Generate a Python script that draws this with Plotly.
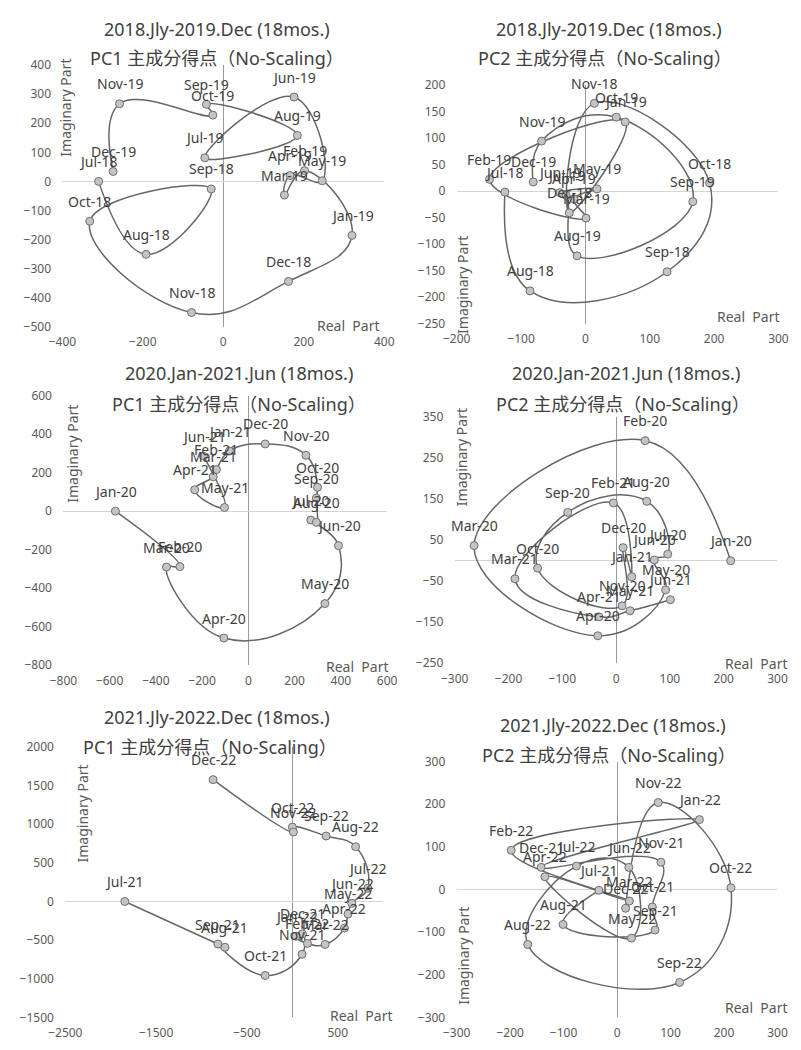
import plotly.graph_objects as go

W, H = 801, 1050
FONT = "Noto Sans, Noto Sans CJK JP, sans-serif"

# ---------------- data ----------------
p1_months = ["Jul-18","Aug-18","Sep-18","Oct-18","Nov-18","Dec-18","Jan-19","Feb-19","Mar-19",
             "Apr-19","May-19","Jun-19","Jul-19","Aug-19","Sep-19","Oct-19","Nov-19","Dec-19"]
p1_re = [-310,-192,-30,-332,-79,162,320,202,152,166,246,176,-46,184,-42,-26,-258,-274]
p1_im = [0,-251,-26,-137,-451,-344,-186,37,-47,20,2,290,81,158,265,228,267,34]

p2_months = p1_months
p2_re = [-125,-86,127,193,14,-25,62,-149,1,-18,18,-40,-30,-13,167,48,-68,-81]
p2_im = [-2,-188,-152,15,165,-41,130,22,-51,-15,4,-3,-8,-122,-20,139,94,17]

p3_months = ["Jan-20","Feb-20","Mar-20","Apr-20","May-20","Jun-20","Jul-20","Aug-20","Sep-20",
             "Oct-20","Nov-20","Dec-20","Jan-21","Feb-21","Mar-21","Apr-21","May-21","Jun-21"]
p3_re = [-575,-296,-354,-106,331,390,270,294,294,299,249,73,-82,-138,-152,-232,-103,-194]
p3_im = [0,-288,-290,-659,-480,-179,-46,-58,68,124,290,349,312,216,179,111,19,286]

p4_months = p3_months
p4_re = [213,54,-264,-34,92,71,96,57,-90,-146,11,13,29,-5,-188,-32,26,101]
p4_im = [0,293,37,-183,-71,2,16,145,118,-18,-110,32,-39,141,-44,-137,-122,-95]

p5_months = ["Jul-21","Aug-21","Sep-21","Oct-21","Nov-21","Dec-21","Jan-22","Feb-22","Mar-22",
             "Apr-22","May-22","Jun-22","Jul-22","Aug-22","Sep-22","Oct-22","Nov-22","Dec-22"]
p5_re = [-1845,-742,-820,-300,106,110,40,166,360,573,612,654,830,696,371,0,11,-873]
p5_im = [0,-593,-551,-958,-683,-420,-450,-543,-556,-344,-162,-25,170,708,847,962,898,1576]

p6_months = p5_months
p6_re = [-34,-101,71,66,82,-142,154,-198,23,-135,27,22,-76,-167,117,213,77,16]
p6_im = [-2,-82,-95,-41,64,52,164,92,-27,30,-114,52,55,-129,-218,4,204,-44]

period_titles = ["2018.Jly-2019.Dec (18mos.)", "2018.Jly-2019.Dec (18mos.)",
                 "2020.Jan-2021.Jun (18mos.)", "2020.Jan-2021.Jun (18mos.)",
                 "2021.Jly-2022.Dec (18mos.)", "2021.Jly-2022.Dec (18mos.)"]
pc_titles = ["PC1 主成分得点（No-Scaling）", "PC2 主成分得点（No-Scaling）"] * 3

x_ticks = [[-400,-200,0,200,400], [-200,-100,0,100,200,300], [-800,-600,-400,-200,0,200,400,600],
           [-300,-200,-100,0,100,200,300], [-2500,-1500,-500,500], [-300,-200,-100,0,100,200,300]]
x_ranges = [[-400,400],[-200,300],[-800,600],[-300,300],[-2500,1000],[-300,300]]
y_ticks = [[-500,-400,-300,-200,-100,0,100,200,300,400], [-250,-200,-150,-100,-50,0,50,100,150,200],
           [-800,-600,-400,-200,0,200,400,600], [-250,-150,-50,50,150,250,350],
           [-1500,-1000,-500,0,500,1000,1500,2000], [-300,-200,-100,0,100,200,300]]
y_ranges = [[-500,400],[-250,200],[-800,600],[-250,350],[-1500,2000],[-300,300]]

panels = [(p1_months,p1_re,p1_im),(p2_months,p2_re,p2_im),(p3_months,p3_re,p3_im),
          (p4_months,p4_re,p4_im),(p5_months,p5_re,p5_im),(p6_months,p6_re,p6_im)]

# ---------------- layout geometry (pixels) ----------------
boxes = [(47,380,57,323),(455,788,77,320),(48,383,393,667),
         (453,787,415,665),(50,379,750,1025),(455,787,765,1025)]
title1_pos = [(207,20),(613,20),(230,370),(630,370),(207,720),(617,728)]
title2_pos = [(207,50),(608,50),(230,402),(627,402),(200,750),(613,758)]
imag_pos = [(50,100),(461,280),(58,452),(460,455),(68,818),(462,962)]
real_pos = [(343,322),(757,313),(352,668),(765,665),(357,1023),(765,1015)]

def px(x): return x / W
def py(y): return 1 - y / H

fig = go.Figure()
annotations = []
layout_axes = {}

for i, (months, re_, im_) in enumerate(panels):
    n = i + 1
    xa = "x" if n == 1 else f"x{n}"
    ya = "y" if n == 1 else f"y{n}"
    fig.add_trace(go.Scatter(
        x=re_, y=im_, mode="lines+markers", xaxis=xa, yaxis=ya,
        line=dict(color="#666666", width=1.5, shape="spline", smoothing=1.3),
        marker=dict(size=8, color="#c4c4c4", line=dict(color="#6e6e6e", width=1)),
        showlegend=False, hoverinfo="text", text=months, cliponaxis=False))
    x0, x1, y0, y1 = boxes[i]
    key = "" if n == 1 else str(n)
    layout_axes[f"xaxis{key}"] = dict(
        domain=[px(x0), px(x1)], range=x_ranges[i], tickvals=x_ticks[i], anchor=ya,
        showgrid=False, zeroline=True, zerolinecolor="#9a9a9a", zerolinewidth=1,
        showline=False, ticks="outside", ticklen=4, tickcolor="rgba(0,0,0,0)",
        tickfont=dict(size=12, color="#595959", family=FONT))
    layout_axes[f"yaxis{key}"] = dict(
        domain=[py(y1), py(y0)], range=y_ranges[i], tickvals=y_ticks[i], anchor=xa,
        showgrid=False, zeroline=True, zerolinecolor="#d4d4d4", zerolinewidth=1,
        showline=False, ticks="outside", ticklen=8, tickcolor="rgba(0,0,0,0)",
        tickfont=dict(size=12, color="#595959", family=FONT))
    # data labels
    for m, xv, yv in zip(months, re_, im_):
        annotations.append(dict(x=xv, y=yv, xref=xa, yref=ya, text=m, showarrow=False,
                                yshift=20, font=dict(size=14, color="#404040", family=FONT)))
    # titles
    tx, ty = title1_pos[i]
    annotations.append(dict(x=px(tx), y=py(ty), xref="paper", yref="paper", text=period_titles[i],
                            showarrow=False, xanchor="center", yanchor="middle",
                            font=dict(size=18, color="#404040", family=FONT)))
    tx, ty = title2_pos[i]
    annotations.append(dict(x=px(tx), y=py(ty), xref="paper", yref="paper", text=pc_titles[i],
                            showarrow=False, xanchor="center", yanchor="middle",
                            font=dict(size=18, color="#404040", family=FONT)))
    ix, iy = imag_pos[i]
    annotations.append(dict(x=px(ix), y=py(iy), xref="paper", yref="paper", text="Imaginary Part",
                            showarrow=False, textangle=-90, xanchor="center", yanchor="middle",
                            font=dict(size=14, color="#595959", family=FONT)))
    rx, ry = real_pos[i]
    annotations.append(dict(x=px(rx), y=py(ry), xref="paper", yref="paper", text="Real\u00a0 Part",
                            showarrow=False, xanchor="center", yanchor="middle",
                            font=dict(size=14, color="#595959", family=FONT)))

fig.update_layout(
    width=W, height=H, margin=dict(l=0, r=0, t=0, b=0),
    paper_bgcolor="white", plot_bgcolor="white",
    font=dict(family=FONT, color="#404040"),
    annotations=annotations, **layout_axes)

fig.write_html("out.html")
